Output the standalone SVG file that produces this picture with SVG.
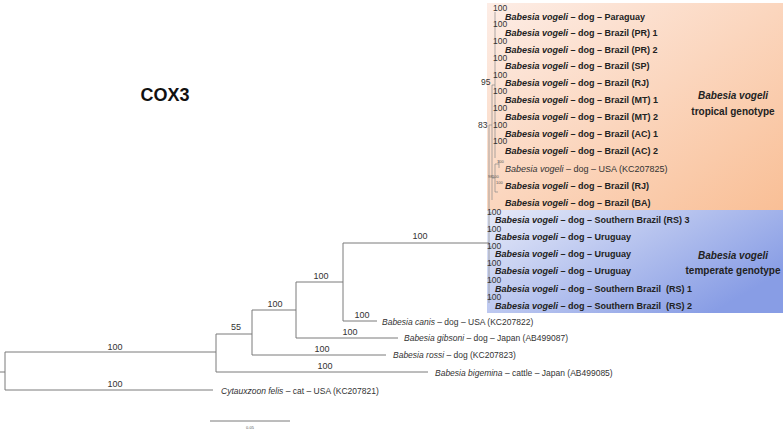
<svg xmlns="http://www.w3.org/2000/svg" width="783" height="433" viewBox="0 0 783 433">
<defs>
<linearGradient id="gTrop" x1="0" y1="0" x2="1" y2="1">
<stop offset="0" stop-color="#fdede6"/>
<stop offset="1" stop-color="#f9bf96"/>
</linearGradient>
<linearGradient id="gTemp" x1="0" y1="0" x2="1" y2="0.6">
<stop offset="0" stop-color="#e6eaf8"/>
<stop offset="1" stop-color="#889de5"/>
</linearGradient>
<style>
text{font-family:"Liberation Sans",Arial,sans-serif;fill:#222}
.tip{font-size:9px;font-weight:bold}
.tipr{font-size:9px;fill:#333}
.out{font-size:8.5px;fill:#333}
.bs{font-size:8.5px;fill:#333}
.bo{font-size:9px;fill:#333;text-anchor:middle}
.tiny{font-size:4px;fill:#555}
.grp{font-size:10px;font-weight:bold;text-anchor:middle}
.it{font-style:italic}
.br{fill:none;stroke:#7a7a7a;stroke-width:1}
.brt{fill:none;stroke:#8a8a8a;stroke-width:0.7}
</style>
</defs>
<rect id="tropical-box" x="487" y="3" width="296" height="207" fill="url(#gTrop)"/>
<rect id="temperate-box" x="487" y="210" width="296" height="103" fill="url(#gTemp)"/>
<text id="title" x="165" y="101" style="font-size:18px;font-weight:bold;text-anchor:middle;fill:#111">COX3</text>
<g id="connectors">
<path class="br" d="M0,372 H5 M5,352 V390 M5,352 H216 M5,390 H213 M216,334 V372 M216,372 H428 M216,334 H252 M252,310 V355 M252,355 H386 M252,310 H296 M296,282 V338 M296,338 H398 M296,282 H343 M343,243 V321 M343,321 H377 M343,243 H489"/>
<path class="brt" d="M489,125 V303 M489,213 H492 M489,230 H492 M489,247 H492 M489,264 H492 M489,281 H492 M489,298 H492 M489,125 H492 M492,85 V200 M492,85 H495 M495,12 V158 M492,178 H495 M495,164 V192 M495,164 H499 M499,160 V168 M495,192 H498"/>
<path class="br" d="M210,421 H290"/>
</g>
<g id="tropical-tips">
<text class="bs" x="493" y="11">100</text>
<text class="tip" x="505" y="20"><tspan class="it">Babesia vogeli</tspan> – dog – Paraguay</text>
<text class="bs" x="493" y="27">100</text>
<text class="tip" x="505" y="36"><tspan class="it">Babesia vogeli</tspan> – dog – Brazil (PR) 1</text>
<text class="bs" x="493" y="44">100</text>
<text class="tip" x="505" y="53"><tspan class="it">Babesia vogeli</tspan> – dog – Brazil (PR) 2</text>
<text class="bs" x="493" y="61">100</text>
<text class="tip" x="505" y="69"><tspan class="it">Babesia vogeli</tspan> – dog – Brazil (SP)</text>
<text class="bs" x="481" y="85">95</text>
<text class="bs" x="493" y="78">100</text>
<text class="tip" x="505" y="86"><tspan class="it">Babesia vogeli</tspan> – dog – Brazil (RJ)</text>
<text class="bs" x="493" y="94">100</text>
<text class="tip" x="505" y="103"><tspan class="it">Babesia vogeli</tspan> – dog – Brazil (MT) 1</text>
<text class="bs" x="493" y="111">100</text>
<text class="tip" x="505" y="120"><tspan class="it">Babesia vogeli</tspan> – dog – Brazil (MT) 2</text>
<text class="bs" x="478" y="128">83</text>
<text class="bs" x="493" y="128">100</text>
<text class="tip" x="505" y="137"><tspan class="it">Babesia vogeli</tspan> – dog – Brazil (AC) 1</text>
<text class="bs" x="493" y="144">100</text>
<text class="tip" x="505" y="154"><tspan class="it">Babesia vogeli</tspan> – dog – Brazil (AC) 2</text>
<text class="tiny" x="497" y="163">100</text>
<text class="tipr" x="505" y="172"><tspan class="it">Babesia vogeli</tspan> – dog – USA (KC207825)</text>
<text class="tiny" x="488" y="178">98</text>
<text class="tiny" x="492" y="178">100</text>
<text class="tip" x="505" y="189"><tspan class="it">Babesia vogeli</tspan> – dog – Brazil (RJ)</text>
<text class="tiny" x="496" y="184">100</text>
<text class="tip" x="505" y="206"><tspan class="it">Babesia vogeli</tspan> – dog – Brazil (BA)</text>
</g>
<g id="temperate-tips">
<text class="bs" x="487" y="215">100</text>
<text class="tip" x="495" y="223"><tspan class="it">Babesia vogeli</tspan> – dog – Southern Brazil (RS) 3</text>
<text class="bs" x="487" y="232">100</text>
<text class="tip" x="495" y="240"><tspan class="it">Babesia vogeli</tspan> – dog – Uruguay</text>
<text class="bs" x="487" y="249">100</text>
<text class="tip" x="495" y="257"><tspan class="it">Babesia vogeli</tspan> – dog – Uruguay</text>
<text class="bs" x="487" y="266">100</text>
<text class="tip" x="495" y="274"><tspan class="it">Babesia vogeli</tspan> – dog – Uruguay</text>
<text class="bs" x="487" y="283">100</text>
<text class="tip" x="495" y="292" xml:space="preserve"><tspan class="it">Babesia vogeli</tspan> – dog – Southern Brazil  (RS) 1</text>
<text class="bs" x="487" y="300">100</text>
<text class="tip" x="495" y="309" xml:space="preserve"><tspan class="it">Babesia vogeli</tspan> – dog – Southern Brazil  (RS) 2</text>
</g>
<g id="group-tropical">
<text class="grp" x="733" y="99"><tspan class="it">Babesia vogeli</tspan></text>
<text class="grp" x="733" y="115">tropical genotype</text>
</g>
<g id="group-temperate">
<text class="grp" x="733" y="259"><tspan class="it">Babesia vogeli</tspan></text>
<text class="grp" x="733" y="274">temperate genotype</text>
</g>
<g id="outgroups">
<text class="bo" x="420" y="239">100</text>
<text class="bo" x="321" y="279">100</text>
<text class="bo" x="275" y="307">100</text>
<text class="bo" x="236" y="330">55</text>
<text class="bo" x="362" y="318">100</text>
<text class="tipr out" x="382" y="325"><tspan class="it">Babesia canis</tspan> – dog – USA (KC207822)</text>
<text class="bo" x="350" y="335">100</text>
<text class="tipr out" x="404" y="341"><tspan class="it">Babesia gibsoni</tspan> – dog – Japan (AB499087)</text>
<text class="bo" x="322" y="352">100</text>
<text class="tipr out" x="393" y="358"><tspan class="it">Babesia rossi</tspan> – dog (KC207823)</text>
<text class="bo" x="325" y="369">100</text>
<text class="tipr out" x="435" y="376"><tspan class="it">Babesia bigemina</tspan> – cattle – Japan (AB499085)</text>
<text class="bo" x="115" y="350">100</text>
<text class="bo" x="115" y="387">100</text>
<text class="tipr out" x="221" y="394"><tspan class="it">Cytauxzoon felis</tspan> – cat – USA (KC207821)</text>
<text class="tiny" x="250" y="429" style="text-anchor:middle">0.05</text>
</g>
</svg>
